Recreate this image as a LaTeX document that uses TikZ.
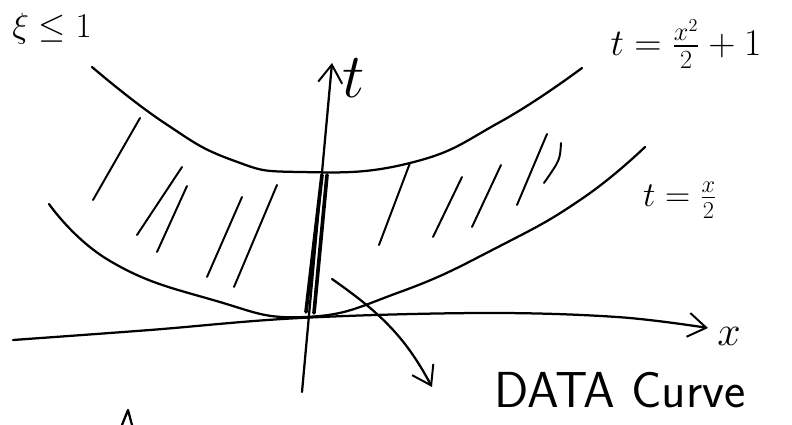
\documentclass[tikz,border=0pt]{standalone}
\usepackage{amsmath}
\usepackage{graphicx}
\usepackage{tikz}
\usetikzlibrary{arrows.meta,positioning}

\begin{document}
\begin{tikzpicture}[
    x=0.025cm, y=-0.025cm,
    sketch/.style={line width=1.6pt, line cap=round, line join=round},
    curve/.style={sketch, smooth, tension=0.8},
    hatch/.style={line width=1.4pt, line cap=round},
    datastroke/.style={line width=2.6pt, line cap=round},
    ptr/.style={sketch, -{Straight Barb[length=4.5mm, width=6mm, line width=1.4pt]}},
    lab/.style={inner sep=0pt, font=\fontsize{26}{30}\selectfont}
]
\useasboundingbox (0,0) rectangle (792,425);

% axes
\coordinate (t0) at (302,392);
\coordinate (t1) at (332,63);
\draw[ptr] (t0) -- (t1);
\draw[ptr] plot[smooth, tension=0.6] coordinates {(13,340) (150,330) (300,318) (483,313) (617,317) (708,328)};

% the two parabolas
\draw[curve] plot coordinates {(92,67) (163,122) (232,160) (300,172) (410,163) (500,122) (582,68)};
\draw[curve] plot coordinates {(49,204) (110,261) (213,300) (305,317) (400,292) (500,246) (583,198) (645,147)};

% hatching between the curves
\foreach \a/\b/\c/\d in {93/200/140/118, 137/235/182/167, 157/252/187/186, 207/277/242/197, 234/287/277/185,
    379/245/410/163, 433/237/462/177, 472/227/501/165, 517/205/547/134}
  {\draw[hatch] (\a,\b) -- (\c,\d);}
\draw[hatch] (544,183) .. controls (560,160) .. (561,143);

% data curve along the t axis
\draw[datastroke] (322,175) -- (306,312);
\draw[datastroke] (327,175) -- (314,313);

% labels
\node[lab] (cond) at (52,29) {$\xi\le 1$};
\node[lab] (tlab) at (354,78) {\scalebox{1.8}{$t$}};
\node[lab] (xlab) at (729,336) {\scalebox{1.2}{$x$}};
\node[lab] (upper) at (686,44) {\scalebox{1.08}{$t=\frac{x^2}{2}+1$}};
\node[lab] (lower) at (680,200) {$t=\frac{x}{2}$};
\node[lab, font=\fontsize{36}{40}\selectfont\sffamily] (data) at (620,390) {DATA Curve};

% pointer to the data curve
\coordinate (dc) at (332,279);
\coordinate (tip) at (432,387);
\draw[ptr] (dc) to[out=-35, in=118] (tip);

% mark at the bottom edge
\draw[sketch] (122,425) -- (128,410) -- (132,425);
\end{tikzpicture}
\end{document}
